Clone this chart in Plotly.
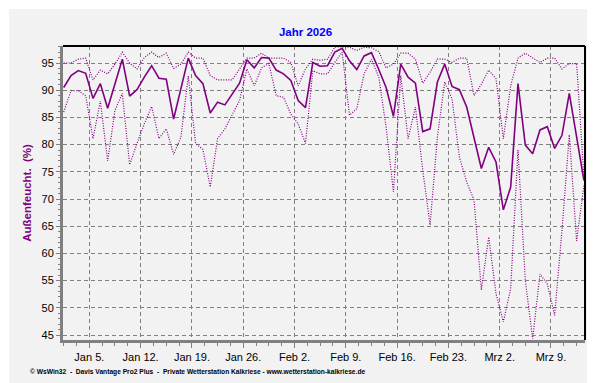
import pandas as pd
import plotly.graph_objects as go

# ---- data (daily values, Jan 1 .. Mar 13, 2026) ----
start_day = "2026-01-01 12:00"
n_days = 72
dates = pd.date_range(start_day, periods=n_days, freq="D")

hum_max = [95.0, 95.0, 95.7, 95.9, 91.9, 93.7, 93.0, 94.8, 97.0, 95.0,
           93.9, 96.0, 97.0, 96.0, 96.8, 94.0, 94.8, 97.0, 95.9, 95.9,
           92.7, 91.9, 91.9, 91.9, 93.9, 95.9, 95.9, 96.8, 95.9, 95.9,
           95.9, 95.1, 90.8, 93.9, 95.7, 95.5, 95.7, 97.9, 98.0, 97.9,
           97.3, 97.9, 97.8, 97.1, 94.1, 94.8, 96.8, 96.8, 95.7, 91.3,
           93.3, 95.7, 95.7, 95.1, 95.9, 95.9, 89.0, 91.1, 93.7, 92.1,
           81.1, 90.8, 95.9, 96.8, 95.9, 95.1, 95.9, 95.9, 93.9, 94.9,
           94.9, 74.0]
hum_mean = [90.5, 92.7, 93.6, 93.1, 88.5, 91.2, 86.7, 91.2, 95.7, 88.9,
            90.1, 92.4, 94.5, 92.2, 92.0, 84.7, 90.2, 95.9, 92.7, 91.2,
            85.8, 87.8, 87.3, 89.3, 91.3, 95.6, 94.1, 96.0, 95.9, 93.7,
            93.0, 91.8, 88.1, 86.8, 95.1, 94.4, 94.5, 97.0, 97.7, 95.4,
            93.8, 96.3, 96.9, 93.8, 90.5, 85.2, 94.8, 92.4, 91.3, 82.4,
            82.9, 91.5, 94.8, 90.7, 90.1, 86.9, 81.2, 75.6, 79.5, 76.8,
            68.0, 72.2, 91.2, 79.9, 78.3, 82.7, 83.3, 79.3, 81.7, 89.4,
            81.4, 73.4]
hum_min = [86.0, 89.9, 89.9, 89.0, 81.1, 88.0, 77.0, 86.3, 89.4, 76.3,
           80.2, 83.8, 87.0, 81.1, 82.9, 78.2, 81.4, 92.6, 80.2, 79.1,
           72.2, 81.1, 82.9, 85.4, 88.1, 93.9, 90.8, 94.1, 94.9, 89.0,
           88.7, 85.6, 83.8, 80.2, 93.6, 93.0, 93.0, 95.1, 97.0, 85.4,
           86.6, 93.0, 95.7, 92.4, 83.2, 71.3, 92.7, 81.1, 86.9, 75.3,
           65.2, 81.4, 91.5, 88.4, 77.7, 73.1, 69.8, 53.3, 63.0, 52.6,
           47.4, 53.5, 79.0, 55.0, 44.3, 56.2, 54.4, 48.6, 64.2, 81.8,
           62.3, 72.5]

tick_dates = ["2026-01-05", "2026-01-12", "2026-01-19", "2026-01-26", "2026-02-02",
              "2026-02-09", "2026-02-16", "2026-02-23", "2026-03-02", "2026-03-09"]
tick_labels = ["Jan 5.", "Jan 12.", "Jan 19.", "Jan 26.", "Feb 2.",
               "Feb 9.", "Feb 16.", "Feb 23.", "Mrz 2.", "Mrz 9."]

title_text = "Jahr 2026"
y_title = "Außenfeucht.\u00a0\u00a0(%)"
footer = ("© WsWin32\u00a0\u00a0-\u00a0\u00a0Davis Vantage Pro2 Plus\u00a0\u00a0-\u00a0\u00a0"
          "Private Wetterstation Kalkriese - www.wetterstation-kalkriese.de")

# ---- styling ----
PURPLE = "#800080"
GRAY = "#808080"
BG = "#F2F2F2"
W, H = 595, 383
L, R, T, B = 55, 18, 38, 51
PW, PH = W - L - R, H - T - B


def px_x(p):
    return (p - L) / PW


def px_y(p):
    return (H - B - p) / PH


fig = go.Figure()
dot = "1px,1.5px"
fig.add_trace(go.Scatter(x=dates, y=hum_max, mode="lines",
                         line=dict(color=PURPLE, width=1.2, dash=dot), hoverinfo="skip"))
fig.add_trace(go.Scatter(x=dates, y=hum_min, mode="lines",
                         line=dict(color=PURPLE, width=1.2, dash=dot), hoverinfo="skip"))
fig.add_trace(go.Scatter(x=dates, y=hum_mean, mode="lines",
                         line=dict(color=PURPLE, width=1.6), hoverinfo="skip"))

font_family = "Liberation Sans, Arial, sans-serif"

fig.update_layout(
    width=W, height=H,
    margin=dict(l=L, r=R, t=T, b=B, pad=0),
    paper_bgcolor=BG, plot_bgcolor=BG,
    showlegend=False,
    font=dict(family=font_family, size=11, color="black"),
    title=dict(text=f"<b>{title_text}</b>", x=0.5, xref="container", xanchor="center",
               y=1 - 24 / H, yref="container", yanchor="middle",
               font=dict(family=font_family, size=11.5, color="#0000FF")),
)

fig.update_xaxes(
    type="date",
    range=["2026-01-01 09:42", "2026-03-13 15:28"],
    tickmode="array", tickvals=tick_dates, ticktext=tick_labels,
    ticks="outside", ticklen=5, tickwidth=1, tickcolor=GRAY,
    tickfont=dict(family=font_family, size=11, color="black"),
    showline=True, linecolor=GRAY, linewidth=3,
    showgrid=True, gridcolor=GRAY, gridwidth=1, griddash="4px,3px",
    minor=dict(dtick=151200000, tick0="2026-01-05", ticks="outside", ticklen=3,
               tickcolor=GRAY, showgrid=False),
    zeroline=False, fixedrange=True,
)
fig.update_yaxes(
    range=[44.08, 98.125],
    tickmode="linear", tick0=45, dtick=5,
    ticks="outside", ticklen=4, tickwidth=1, tickcolor=GRAY,
    tickfont=dict(family=font_family, size=11, color="black"),
    showline=True, linecolor=GRAY, linewidth=3,
    showgrid=True, gridcolor=GRAY, gridwidth=1, griddash="4px,3px",
    minor=dict(dtick=1, tick0=45, ticks="outside", ticklen=2, tickcolor=GRAY, showgrid=False),
    title=dict(text=f"<b>{y_title}</b>", standoff=8,
               font=dict(family=font_family, size=11.5, color=PURPLE)),
    zeroline=False, fixedrange=True,
)

# black top / right frame of the plot area
fig.add_shape(type="line", xref="paper", yref="paper", x0=0, x1=1, y0=1, y1=1,
              line=dict(color="black", width=2), layer="above")
fig.add_shape(type="line", xref="paper", yref="paper", x0=1, x1=1, y0=0, y1=1,
              line=dict(color="black", width=2), layer="above")

# window-like border of the image
fig.add_shape(type="line", xref="paper", yref="paper", x0=px_x(0), x1=px_x(W), y0=px_y(0.5), y1=px_y(0.5),
              line=dict(color="white", width=1))
fig.add_shape(type="line", xref="paper", yref="paper", x0=px_x(0.5), x1=px_x(0.5), y0=px_y(0), y1=px_y(H),
              line=dict(color="white", width=1))
fig.add_shape(type="line", xref="paper", yref="paper", x0=px_x(0), x1=px_x(W), y0=px_y(381.5), y1=px_y(381.5),
              line=dict(color="#A0A0A0", width=1))
fig.add_shape(type="line", xref="paper", yref="paper", x0=px_x(592.5), x1=px_x(592.5), y0=px_y(0), y1=px_y(H),
              line=dict(color="#A0A0A0", width=1))

fig.add_annotation(text=f"<b>{footer}</b>", xref="paper", yref="paper",
                   x=px_x(20), y=px_y(363.5), xanchor="left", yanchor="middle",
                   showarrow=False, font=dict(family=font_family, size=6.65, color="black"))

fig.write_html("out.html", config={"displayModeBar": False})
